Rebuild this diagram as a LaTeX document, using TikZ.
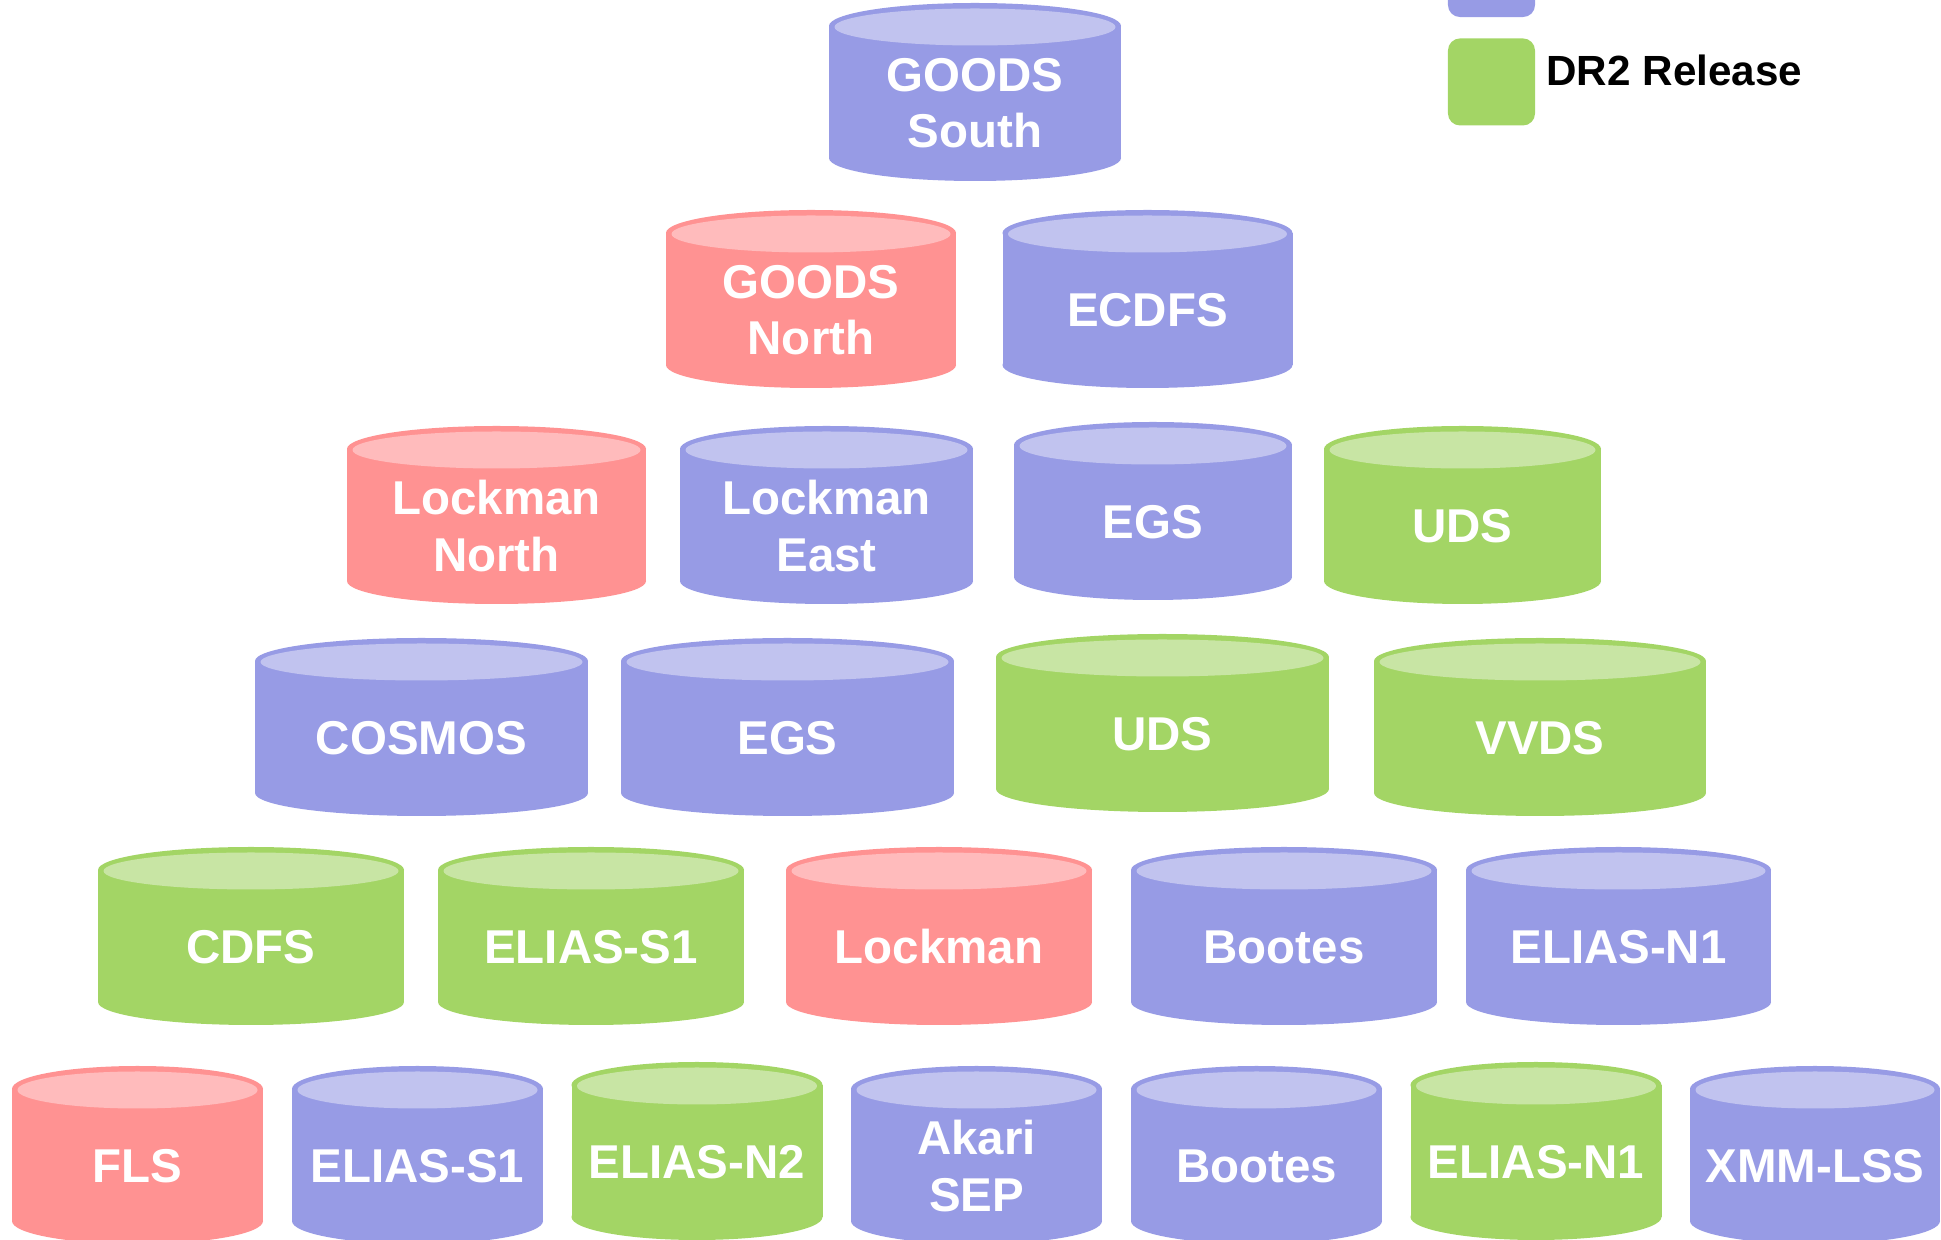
\documentclass[tikz,border=0pt]{standalone}
\usepackage{fontspec}
\setmainfont{Liberation Sans}
\usepackage{tikz}
\usetikzlibrary{positioning}
\definecolor{fieldblue}{RGB}{151,155,229}
\definecolor{fieldbluetop}{RGB}{193,195,239}
\definecolor{fieldred}{RGB}{255,146,146}
\definecolor{fieldredtop}{RGB}{255,187,188}
\definecolor{fieldgreen}{RGB}{163,213,101}
\definecolor{fieldgreentop}{RGB}{200,229,164}
\tikzset{
field_label/.style={text=white, font=\fontsize{13.5}{16}\selectfont\bfseries, align=center, inner sep=0},
legend_box/.style={rectangle, rounded corners=1.2mm, minimum size=8.7mm, inner sep=0},
legend_text/.style={text=black, font=\fontsize{12}{14}\selectfont\bfseries, inner sep=0}
}
\newcommand{\field}[6]{
  \fill[#5] ({#2-#4/2},{#3+23}) rectangle ({#2+#4/2},{#3+155});
  \fill[#5] (#2,{#3+155}) ellipse [x radius={#4/2}, y radius=23];
  \fill[#5] (#2,{#3+23}) ellipse [x radius={#4/2}, y radius=23];
  \fill[#5top] (#2,{#3+24}) ellipse [x radius={#4/2-5.5}, y radius=18.5];
  \node[field_label] (#1) at (#2,{#3+100}) {#6};
}

\begin{document}
\begin{tikzpicture}[x=0.01cm, y=-0.01cm]
    \useasboundingbox (0,0) rectangle (1941,1240);
    \clip (0,0) rectangle (1941,1240);

    \field{goods_s}{975}{3}{292}{fieldblue}{GOODS\\South}

    \field{goods_n}{811}{210}{290}{fieldred}{GOODS\\North}
    \field{ecdfs}{1147.5}{210}{290}{fieldblue}{ECDFS}

    \field{lockman_n}{496.5}{426}{299}{fieldred}{Lockman\\North}
    \field{lockman_e}{826.5}{426}{293}{fieldblue}{Lockman\\East}
    \field{egs_3}{1153}{422}{278}{fieldblue}{EGS}
    \field{uds_3}{1462.5}{426}{277}{fieldgreen}{UDS}

    \field{cosmos}{421.5}{638}{333}{fieldblue}{COSMOS}
    \field{egs_4}{787.5}{638}{333}{fieldblue}{EGS}
    \field{uds_4}{1162.5}{634}{333}{fieldgreen}{UDS}
    \field{vvds}{1540}{638}{332}{fieldgreen}{VVDS}

    \field{cdfs}{251}{847}{306}{fieldgreen}{CDFS}
    \field{elias_s1_5}{591}{847}{306}{fieldgreen}{ELIAS-S1}
    \field{lockman}{939}{847}{306}{fieldred}{Lockman}
    \field{bootes_5}{1284}{847}{306}{fieldblue}{Bootes}
    \field{elias_n1_5}{1618.5}{847}{305}{fieldblue}{ELIAS-N1}

    \field{fls}{137.5}{1066}{251}{fieldred}{FLS}
    \field{elias_s1_6}{417.5}{1066}{251}{fieldblue}{ELIAS-S1}
    \field{elias_n2}{697}{1062}{251}{fieldgreen}{ELIAS-N2}
    \field{akari}{976.5}{1066}{251}{fieldblue}{Akari\\SEP}
    \field{bootes_6}{1256.5}{1066}{251}{fieldblue}{Bootes}
    \field{elias_n1_6}{1536}{1062}{251}{fieldgreen}{ELIAS-N1}
    \field{xmm}{1815}{1066}{250}{fieldblue}{XMM-LSS}

    \node[legend_box, fill=fieldblue] (key_blue) at (1491.5,-26.5) {};
    \node[legend_box, fill=fieldgreen] (key_green) [below=2mm of key_blue] {};
    \node[legend_text, anchor=base west] (key_green_text) at ([xshift=1mm, yshift=-4.8mm]key_green.north east) {DR2 Release};
\end{tikzpicture}
\end{document}
